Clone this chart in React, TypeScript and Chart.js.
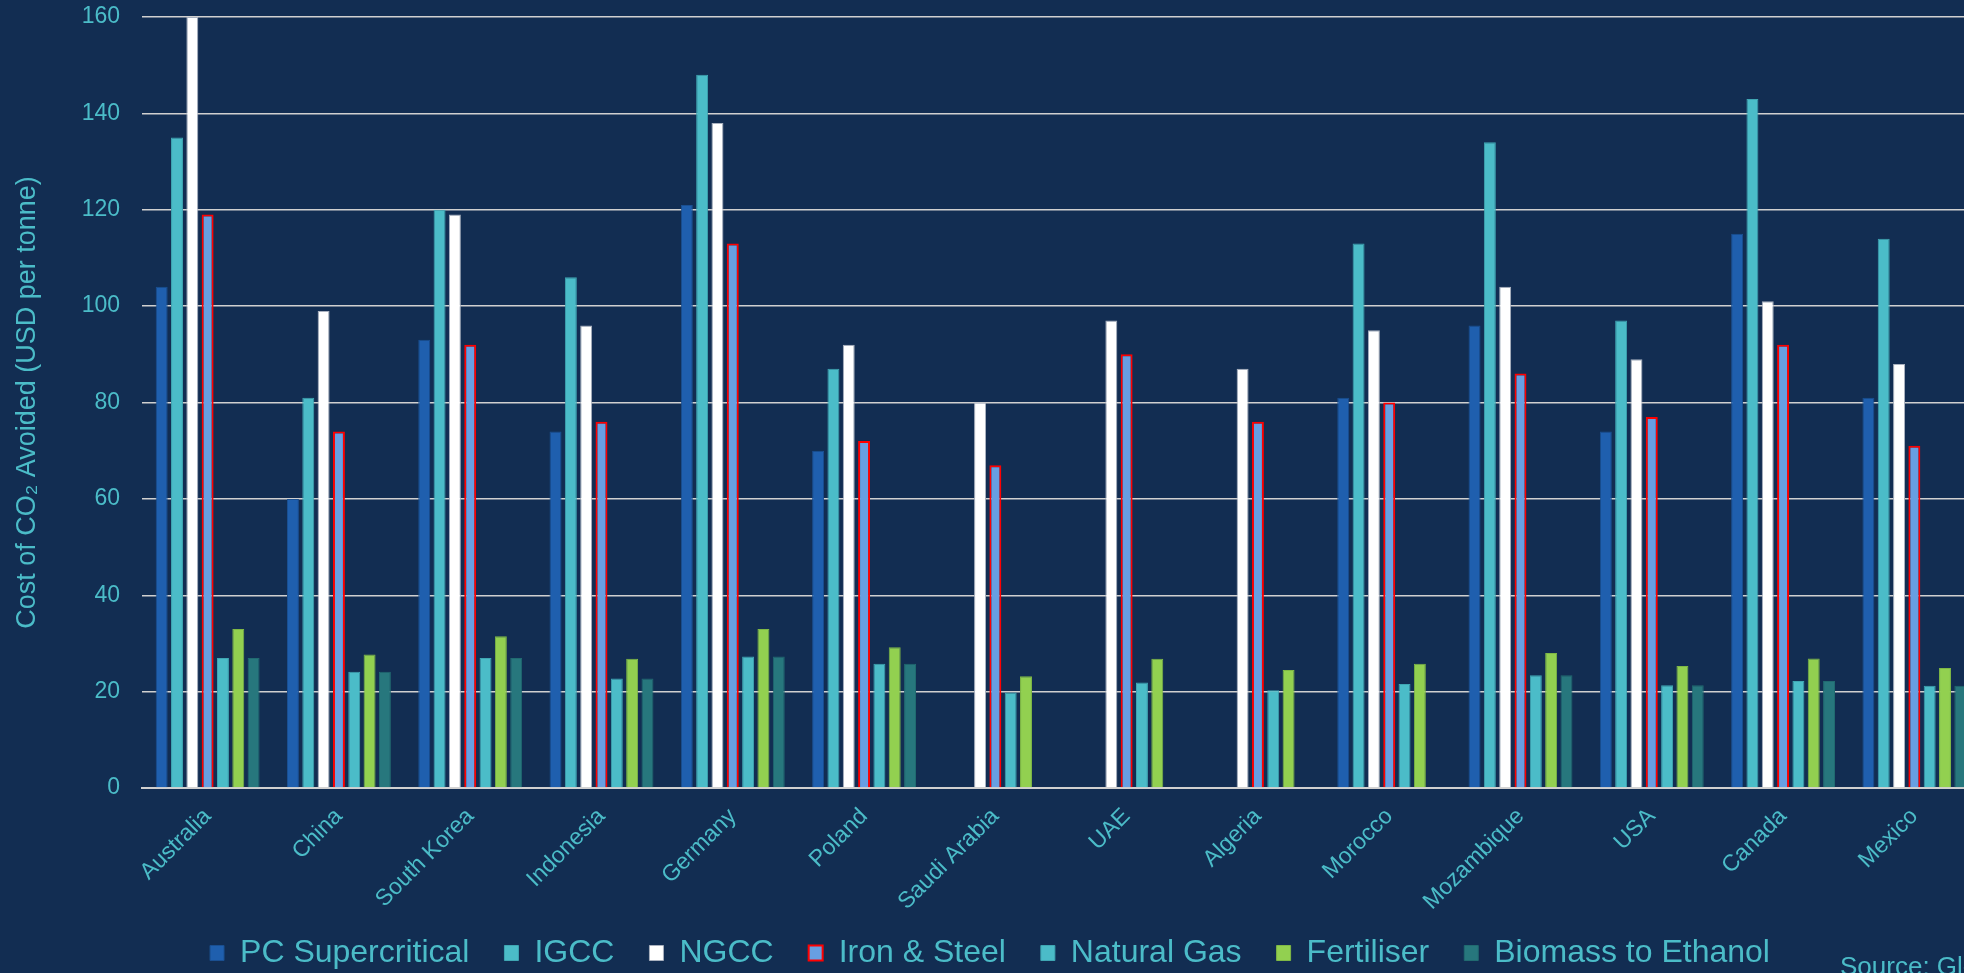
import React, { useEffect, useRef } from 'react';
import { Chart, registerables } from 'chart.js';

Chart.register(...registerables);

const categories = [
  'Australia', 'China', 'South Korea', 'Indonesia', 'Germany', 'Poland', 'Saudi Arabia',
  'UAE', 'Algeria', 'Morocco', 'Mozambique', 'USA', 'Canada', 'Mexico',
];
const pcSupercritical = [104, 60, 93, 74, 121, 70, null, null, null, 81, 96, 74, 115, 81];
const igcc = [135, 81, 120, 106, 148, 87, null, null, null, 113, 134, 97, 143, 114];
const ngcc = [160, 99, 119, 96, 138, 92, 80, 97, 87, 95, 104, 89, 101, 88];
const ironSteel = [119, 74, 92, 76, 113, 72, 67, 90, 76, 80, 86, 77, 92, 71];
const naturalGas = [27, 24.1, 27, 22.7, 27.3, 25.8, 19.8, 21.9, 20.3, 21.6, 23.4, 21.3, 22.2, 21.2];
const fertiliser = [33, 27.7, 31.5, 26.8, 33, 29.2, 23.2, 26.8, 24.5, 25.8, 28, 25.3, 26.9, 24.9];
const biomassEthanol = [27, 24.1, 27, 22.7, 27.3, 25.8, null, null, null, null, 23.4, 21.3, 22.2, 21.2];
const yMin = 0;
const yMax = 160;
const yStep = 20;
const yTitle = 'Cost of CO₂ Avoided (USD per tonne)';
const sourceText = 'Source: Global CCS Institute';

const FONT = "'Liberation Sans', Arial, sans-serif";
const TEXT = '#4bbcc8';

export default function App() {
  const ref = useRef<HTMLCanvasElement>(null);

  useEffect(() => {
    document.body.style.margin = '0';
    const canvas = ref.current;
    if (!canvas) return;

    const mk = (label: string, data: (number | null)[], bg: string, bc: string, bw: number) => ({
      label,
      data,
      backgroundColor: bg,
      borderColor: bc,
      borderWidth: bw,
      categoryPercentage: 0.817,
      barPercentage: 0.78,
    });

    const sourcePlugin = {
      id: 'sourceNote',
      afterDraw(chart: any) {
        const c = chart.ctx;
        c.save();
        c.font = `26px ${FONT}`;
        c.fillStyle = TEXT;
        c.textAlign = 'left';
        c.textBaseline = 'top';
        c.fillText(sourceText, 1840, 955);
        c.restore();
      },
    };

    const chart = new Chart(canvas, {
      type: 'bar',
      data: {
        labels: categories,
        datasets: [
          mk('PC Supercritical', pcSupercritical, '#1f5fae', '#1a4f91', 1),
          mk('IGCC', igcc, '#4bbcc8', '#3fa6b3', 1),
          mk('NGCC', ngcc, '#ffffff', '#a9b1bf', 1),
          mk('Iron & Steel', ironSteel, '#679fe2', '#ff0000', 2),
          mk('Natural Gas', naturalGas, '#4bbcc8', '#3fa6b3', 1),
          mk('Fertiliser', fertiliser, '#92d050', '#7fb845', 1),
          mk('Biomass to Ethanol', biomassEthanol, '#27777d', '#216a70', 1),
        ],
      },
      options: {
        animation: false,
        responsive: false,
        devicePixelRatio: 1,
        layout: { padding: { top: 0, right: 4, left: 0, bottom: 0 } },
        plugins: {
          legend: {
            position: 'bottom',
            labels: {
              color: TEXT,
              font: { family: FONT, size: 32 },
              boxWidth: 14,
              boxHeight: 15,
              padding: 35,
            },
          },
          tooltip: { enabled: false },
        },
        scales: {
          x: {
            grid: { display: false, drawTicks: false },
            border: { display: true, color: '#d0d0d0', width: 2 },
            ticks: {
              color: TEXT,
              font: { family: FONT, size: 23 },
              minRotation: 45,
              maxRotation: 45,
              autoSkip: false,
              padding: 15,
            },
            afterFit: (s: any) => {
              s.height = 114;
              // let the rotated labels run past the axis box instead of being cut
              s._computeLabelArea = () => undefined;
            },
          },
          y: {
            min: yMin,
            max: yMax,
            ticks: {
              stepSize: yStep,
              color: TEXT,
              font: { family: FONT, size: 23 },
              padding: 22,
            },
            grid: { color: '#d0d0d0', lineWidth: 1.5, drawTicks: false },
            border: { display: false },
            title: {
              display: true,
              text: yTitle,
              color: TEXT,
              font: { family: FONT, size: 27 },
              padding: { top: 11, bottom: 0 },
            },
            afterFit: (s: any) => {
              s.width = 142;
              s.paddingTop = 17;
            },
          },
        },
      },
      plugins: [sourcePlugin],
    });

    return () => chart.destroy();
  }, []);

  return (
    <div
      style={{
        position: 'fixed',
        left: 0,
        top: 0,
        width: 1964,
        height: 973,
        overflow: 'hidden',
        background: '#122d52',
      }}
    >
      <canvas ref={ref} width={1984} height={979} style={{ display: 'block' }} />
    </div>
  );
}
